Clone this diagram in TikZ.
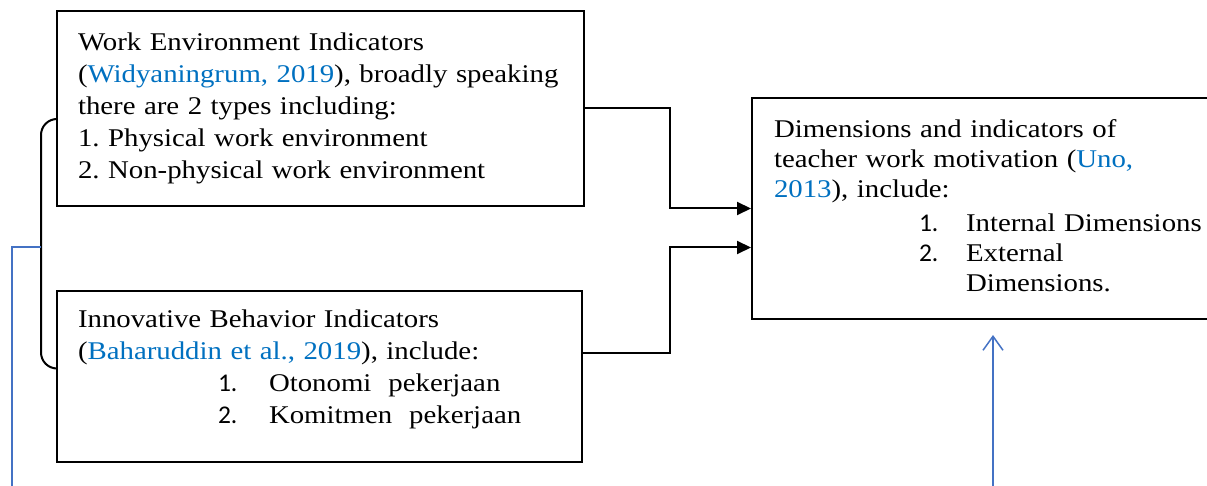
\documentclass[tikz,border=0pt]{standalone}
\usepackage{fontspec}
\setmainfont{Liberation Serif}[FakeStretch=1.13]
\newfontfamily\numfont{Carlito}
\usetikzlibrary{positioning,arrows.meta,calc}
\definecolor{citeblue}{RGB}{0,112,192}
\definecolor{lineblue}{RGB}{68,114,196}
\newcommand{\refcite}[1]{\textcolor{citeblue}{#1}}
\frenchspacing
\hyphenpenalty=10000
\tikzset{
  box/.style={draw,line width=2pt,anchor=north west,align=left,inner xsep=21pt,
    font=\fontsize{25.5}{32}\selectfont},
  conn/.style={line width=2pt,-{Triangle[length=14pt,width=13pt]}},
  blueline/.style={draw=lineblue,line width=1.5pt}
}

\begin{document}
\begin{tikzpicture}[x=1pt,y=-1pt]
        \path[use as bounding box,clip] (0,0) rectangle (1207,486);
        \node[box,text width=485pt,minimum height=195pt] (env) at (56,10)
          {Work Environment Indicators\\
           (\refcite{Widyaningrum, 2019}), broadly speaking\\
           there are 2 types including:\\
           1. Physical work environment\\
           2. Non-physical work environment};
        \node[box,text width=483pt,minimum height=171pt] (inno) at (56,290)
          {Innovative Behavior Indicators\\
           (\refcite{Baharuddin et al., 2019}), include:\\
           \hspace*{140pt}\makebox[51pt][l]{\numfont 1.}Otonomi\ \ pekerjaan\\
           \hspace*{140pt}\makebox[51pt][l]{\numfont 2.}Komitmen\ \ pekerjaan\rule[-20pt]{0pt}{1pt}};
        \node[box,inner xsep=22pt,text width=436pt,minimum height=221pt,
          font=\fontsize{25.5}{30}\selectfont] (motiv) at (751,97)
          {Dimensions and indicators of\\
           teacher work motivation (\refcite{Uno,}\\
           \refcite{2013}), include:\\[4pt]
           \hspace*{145pt}\makebox[47pt][l]{\numfont 1.}Internal Dimensions\\
           \hspace*{145pt}\makebox[47pt][l]{\numfont 2.}External\\
           \hspace*{192pt}Dimensions.\rule[-6pt]{0pt}{1pt}};
        \draw[conn] (env.east) -- ++(85,0) |- (motiv.west);
        \draw[conn] ([yshift=24pt]inno.east) -- ++(87,0) |- ([yshift=-39pt]motiv.west);
        % bracket joining the two indicator boxes
        \coordinate (brtop) at ([yshift=-10.5pt]env.west);
        \coordinate (brbot) at ([yshift=8pt]inno.west);
        \coordinate (brmid) at (41,247);
        \draw[line width=2pt,rounded corners=16pt] (brtop) -| (brmid) |- (brbot);
        \coordinate (lowL) at (12,490);
        \coordinate (lowR) at (993,490);
        \draw[blueline] (brmid) -| (lowL);
        \draw[blueline,-{Straight Barb[length=14pt,width=20pt]}] (lowR) -- ([yshift=-15pt]motiv.south -| lowR);
    \end{tikzpicture}
\end{document}
